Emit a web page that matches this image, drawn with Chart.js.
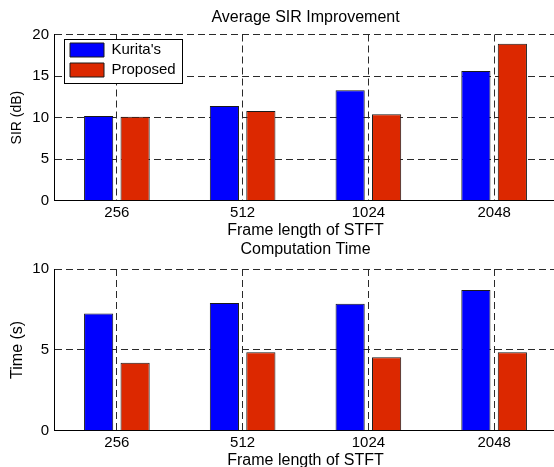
<!DOCTYPE html>
<html>
<head>
<meta charset="utf-8">
<style>
html,body{margin:0;padding:0;background:#fff;}
body{width:554px;height:467px;overflow:hidden;position:relative;}
canvas{position:absolute;left:0;}
#c1{top:0;}
#c2{top:240px;}
</style>
<script src="https://cdn.jsdelivr.net/npm/chart.js@4/dist/chart.umd.min.js"></script>
</head>
<body>
<canvas id="c1" width="562" height="240" style="width:562px;height:240px"></canvas>
<canvas id="c2" width="562" height="230" style="width:562px;height:230px"></canvas>
<script>
// ---- data ----
const categories = ['256', '512', '1024', '2048'];
const seriesNames = ["Kurita's", 'Proposed'];
const sirKurita = [10.2, 11.4, 13.3, 15.6];
const sirProposed = [10.1, 10.8, 10.4, 18.9];
const timeKurita = [7.25, 7.9, 7.85, 8.7];
const timeProposed = [4.2, 4.85, 4.55, 4.85];
const sirTicks = [0, 5, 10, 15, 20];
const timeTicks = [0, 5, 10];

Chart.defaults.font.family = "'Liberation Sans', Arial, Helvetica, sans-serif";
Chart.defaults.color = '#000';

const BLUE = '#0000ff';
const RED = '#dc2800';
const EDGE = '#1a1a1a';
const GRID = '#2a2a2a';
const DASH = [7, 4];

const legendFrame = {
  id: 'legendFrame',
  afterLayout(chart) {
    const lg = chart.legend;
    if (!lg || !lg.options.display) return;
    const a = chart.chartArea;
    lg.left = a.left + 11;
    lg.top = a.top + 3;
    lg.right = lg.left + lg.width;
    lg.bottom = lg.top + lg.height;
  },
  beforeDatasetsDraw(chart) {
    const lg = chart.legend;
    if (!lg || !lg.options.display || !lg.legendHitBoxes || !lg.legendHitBoxes.length) return;
    const hb = lg.legendHitBoxes;
    let r = 0;
    hb.forEach(h => { r = Math.max(r, h.left + h.width); });
    const last = hb[hb.length - 1];
    const x1 = Math.round(hb[0].left - 6) + 0.5;
    const x2 = Math.round(r + 6) + 0.5;
    const y1 = Math.round(hb[0].top - 3.5) + 0.5;
    const y2 = Math.round(last.top + last.height + 5.5) + 0.5;
    const ctx = chart.ctx;
    ctx.save();
    ctx.fillStyle = '#fff';
    ctx.fillRect(x1, y1, x2 - x1, y2 - y1);
    ctx.strokeStyle = '#000';
    ctx.lineWidth = 1;
    ctx.strokeRect(x1, y1, x2 - x1, y2 - y1);
    ctx.restore();
    lg.draw();
  }
};

function makeChart(id, cfg) {
  return new Chart(document.getElementById(id), {
    type: 'bar',
    data: {
      labels: categories,
      datasets: [
        { label: seriesNames[0], data: cfg.a, backgroundColor: BLUE, borderColor: EDGE, borderWidth: 1,
          categoryPercentage: 0.58, barPercentage: 0.8 },
        { label: seriesNames[1], data: cfg.b, backgroundColor: RED, borderColor: EDGE, borderWidth: 1,
          categoryPercentage: 0.58, barPercentage: 0.8 }
      ]
    },
    options: {
      responsive: false,
      animation: false,
      events: [],
      layout: { padding: { left: 0, top: 0, right: 5, bottom: 0 } },
      plugins: {
        tooltip: { enabled: false },
        title: {
          display: true, text: cfg.title, fullSize: false, color: '#000',
          font: { size: 16, weight: 'normal' },
          padding: cfg.titlePad
        },
        legend: {
          display: cfg.legend,
          position: 'chartArea',
          align: 'start',
          labels: { boxWidth: 34, boxHeight: 14, padding: 5, color: '#000', font: { size: 15 } }
        }
      },
      scales: {
        x: {
          ticks: { font: { size: 15 }, padding: 3, color: '#000' },
          grid: { offset: false, color: GRID, lineWidth: 1, drawTicks: false },
          border: { display: true, color: '#000', width: 1, dash: DASH },
          title: { display: true, text: 'Frame length of STFT', color: '#000', font: { size: 16 }, padding: { top: 0, bottom: 0 } },
          afterFit: s => { s.height = cfg.xHeight; }
        },
        y: {
          min: 0, max: cfg.yTicks[cfg.yTicks.length - 1],
          afterBuildTicks: s => { s.ticks = cfg.yTicks.map(v => ({ value: v })); },
          ticks: { font: { size: 15 }, padding: 5, color: '#000' },
          grid: { color: GRID, lineWidth: 1, drawTicks: false },
          border: { display: true, color: '#000', width: 1, dash: DASH },
          title: { display: true, text: cfg.yTitle, color: '#000', font: { size: cfg.yTitleSize }, padding: { top: cfg.yTitlePad, bottom: 0 } },
          afterFit: s => { s.width = 54; }
        }
      }
    },
    plugins: [legendFrame]
  });
}

makeChart('c1', {
  a: sirKurita, b: sirProposed, yTicks: sirTicks,
  title: 'Average SIR Improvement', titlePad: { top: 8, bottom: 7.3 },
  yTitle: 'SIR (dB)', yTitleSize: 14, yTitlePad: 9,
  xHeight: 39.3, legend: true
});
makeChart('c2', {
  a: timeKurita, b: timeProposed, yTicks: timeTicks,
  title: 'Computation Time', titlePad: { top: 0.4, bottom: 9.4 },
  yTitle: 'Time (s)', yTitleSize: 16, yTitlePad: 8,
  xHeight: 39.3, legend: false
});
</script>
</body>
</html>
